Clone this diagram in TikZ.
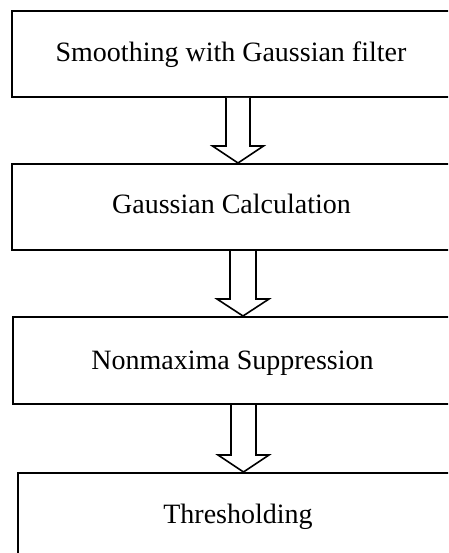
\documentclass[tikz,border=0pt]{standalone}
\usepackage{fontspec}
\setmainfont{Liberation Serif}
\usetikzlibrary{calc}
\tikzset{
  box/.style={draw=black, line width=2pt, fill=white, inner sep=0pt, anchor=north west},
  lbl/.style={inner sep=0pt, anchor=base, font=\fontsize{28}{34}\selectfont},
  blockarrow/.style={draw=black, line width=1.6pt, fill=white, line join=miter}
}
\newcommand{\blockarr}[5]{% from, to, x centre, shaft half width, head half width
  \draw[blockarrow] let \p1=(#1.south), \p2=(#2.north) in
    ({(#3-#4)*1pt},\y1) -- ({(#3-#4)*1pt},{\y2+17pt}) -- ({(#3-#5)*1pt},{\y2+17pt})
    -- ({#3*1pt},\y2) -- ({(#3+#5)*1pt},{\y2+17pt}) -- ({(#3+#4)*1pt},{\y2+17pt})
    -- ({(#3+#4)*1pt},\y1);}
\begin{document}
\begin{tikzpicture}[x=1pt,y=-1pt]
\useasboundingbox (0,0) rectangle (448,553);
\fill[white] (0,0) rectangle (448,553);
\clip (0,0) rectangle (448,553);
\node[box, minimum width=470pt, minimum height=86pt] (b1) at (11,10) {};
\node[box, minimum width=470pt, minimum height=86pt] (b2) at (11,163) {};
\node[box, minimum width=470pt, minimum height=87pt] (b3) at (12,316) {};
\node[box, minimum width=470pt, minimum height=120pt] (b4) at (17,472) {};
\node[lbl] (t1) at (231,62) {Smoothing with Gaussian filter};
\node[lbl] (t2) at (231.5,213) {Gaussian Calculation};
\node[lbl] (t3) at (232.5,369) {Nonmaxima Suppression};
\node[lbl] (t4) at (238,523) {Thresholding};
\blockarr{b1}{b2}{238}{12}{25.5}
\blockarr{b2}{b3}{243}{13}{26}
\blockarr{b3}{b4}{243.5}{12.5}{25.5}
\end{tikzpicture}
\end{document}
